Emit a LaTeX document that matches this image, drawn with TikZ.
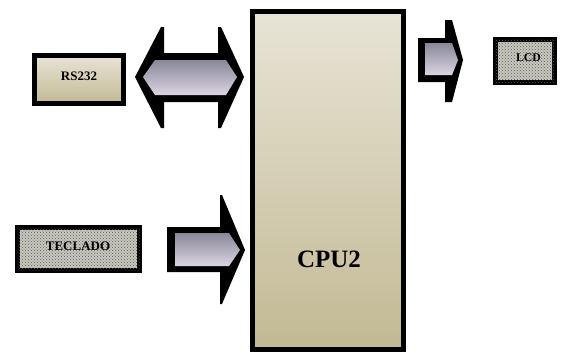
\documentclass[tikz,border=0pt]{standalone}
\usepackage{fontspec}
\setmainfont{Liberation Serif}
\usetikzlibrary{patterns}
\definecolor{bxtop}{HTML}{E8E4D6}
\definecolor{bxbot}{HTML}{C2B993}
\definecolor{artop}{HTML}{88889A}
\definecolor{arbot}{HTML}{DCD4E2}
\definecolor{dotbg}{HTML}{C8C8BE}
\tikzset{
  blockbox/.style={draw=black, line width=5pt, top color=bxtop, bottom color=bxbot, inner sep=0pt},
  dotbox/.style={draw=black, line width=5pt, fill=dotbg, postaction={pattern=crosshatch dots, pattern color=gray!70!black}, inner sep=0pt},
  lbl/.style={inner sep=0pt, text depth=0pt, font=\bfseries\fontsize{#1}{#1}\selectfont},
  arrowouter/.style={fill=black},
  arrowinner/.style={top color=artop, bottom color=arbot}
}
\begin{document}
\begin{tikzpicture}[x=1pt,y=-1pt]
\useasboundingbox (0,0) rectangle (561,360);
% CPU
\node[blockbox, minimum width=151pt, minimum height=338pt] (cpu) at (328,180.5) {};
\node[lbl=25] (cpulbl) at (329,259) {CPU2};
% RS232
\node[blockbox, minimum width=89pt, minimum height=48pt] (rs) at (79,79.5) {};
\node[lbl=13] (rslbl) at (79,76) {RS232};
% TECLADO
\node[dotbox, minimum width=122pt, minimum height=43pt] (tec) at (78.5,249) {};
\node[lbl=13] (teclbl) at (78,246.5) {TECLADO};
% LCD
\node[dotbox, minimum width=59pt, minimum height=43pt] (lcd) at (524.5,61) {};
\node[lbl=11.8] (lcdlbl) at (528.5,57.5) {LCD};
% double arrow RS232 <-> CPU
\fill[arrowouter] (135,77) -- (161,27) -- (164,27) -- (164,53) -- (218,53) -- (218,27) -- (221,27) -- (244,77) -- (221,128) -- (218,128) -- (218,102) -- (164,102) -- (164,128) -- (161,128) -- cycle;
\fill[arrowinner] (143,77) -- (155,60) -- (226,60) -- (237,77) -- (226,95) -- (155,95) -- cycle;
% arrow CPU -> LCD
\fill[arrowouter] (418,38) -- (445,38) -- (445,20) -- (452,20) -- (463,60) -- (452,102) -- (445,102) -- (445,82) -- (418,82) -- cycle;
\fill[arrowinner] (425,43) -- (452,43) -- (458,60) -- (452,75) -- (425,75) -- cycle;
% arrow TECLADO -> CPU
\fill[arrowouter] (167,227) -- (220,227) -- (220,195) -- (222,195) -- (245,250) -- (222,304) -- (220,304) -- (220,272) -- (167,272) -- cycle;
\fill[arrowinner] (175,233) -- (229,233) -- (240,250) -- (229,266) -- (175,266) -- cycle;
\end{tikzpicture}
\end{document}
